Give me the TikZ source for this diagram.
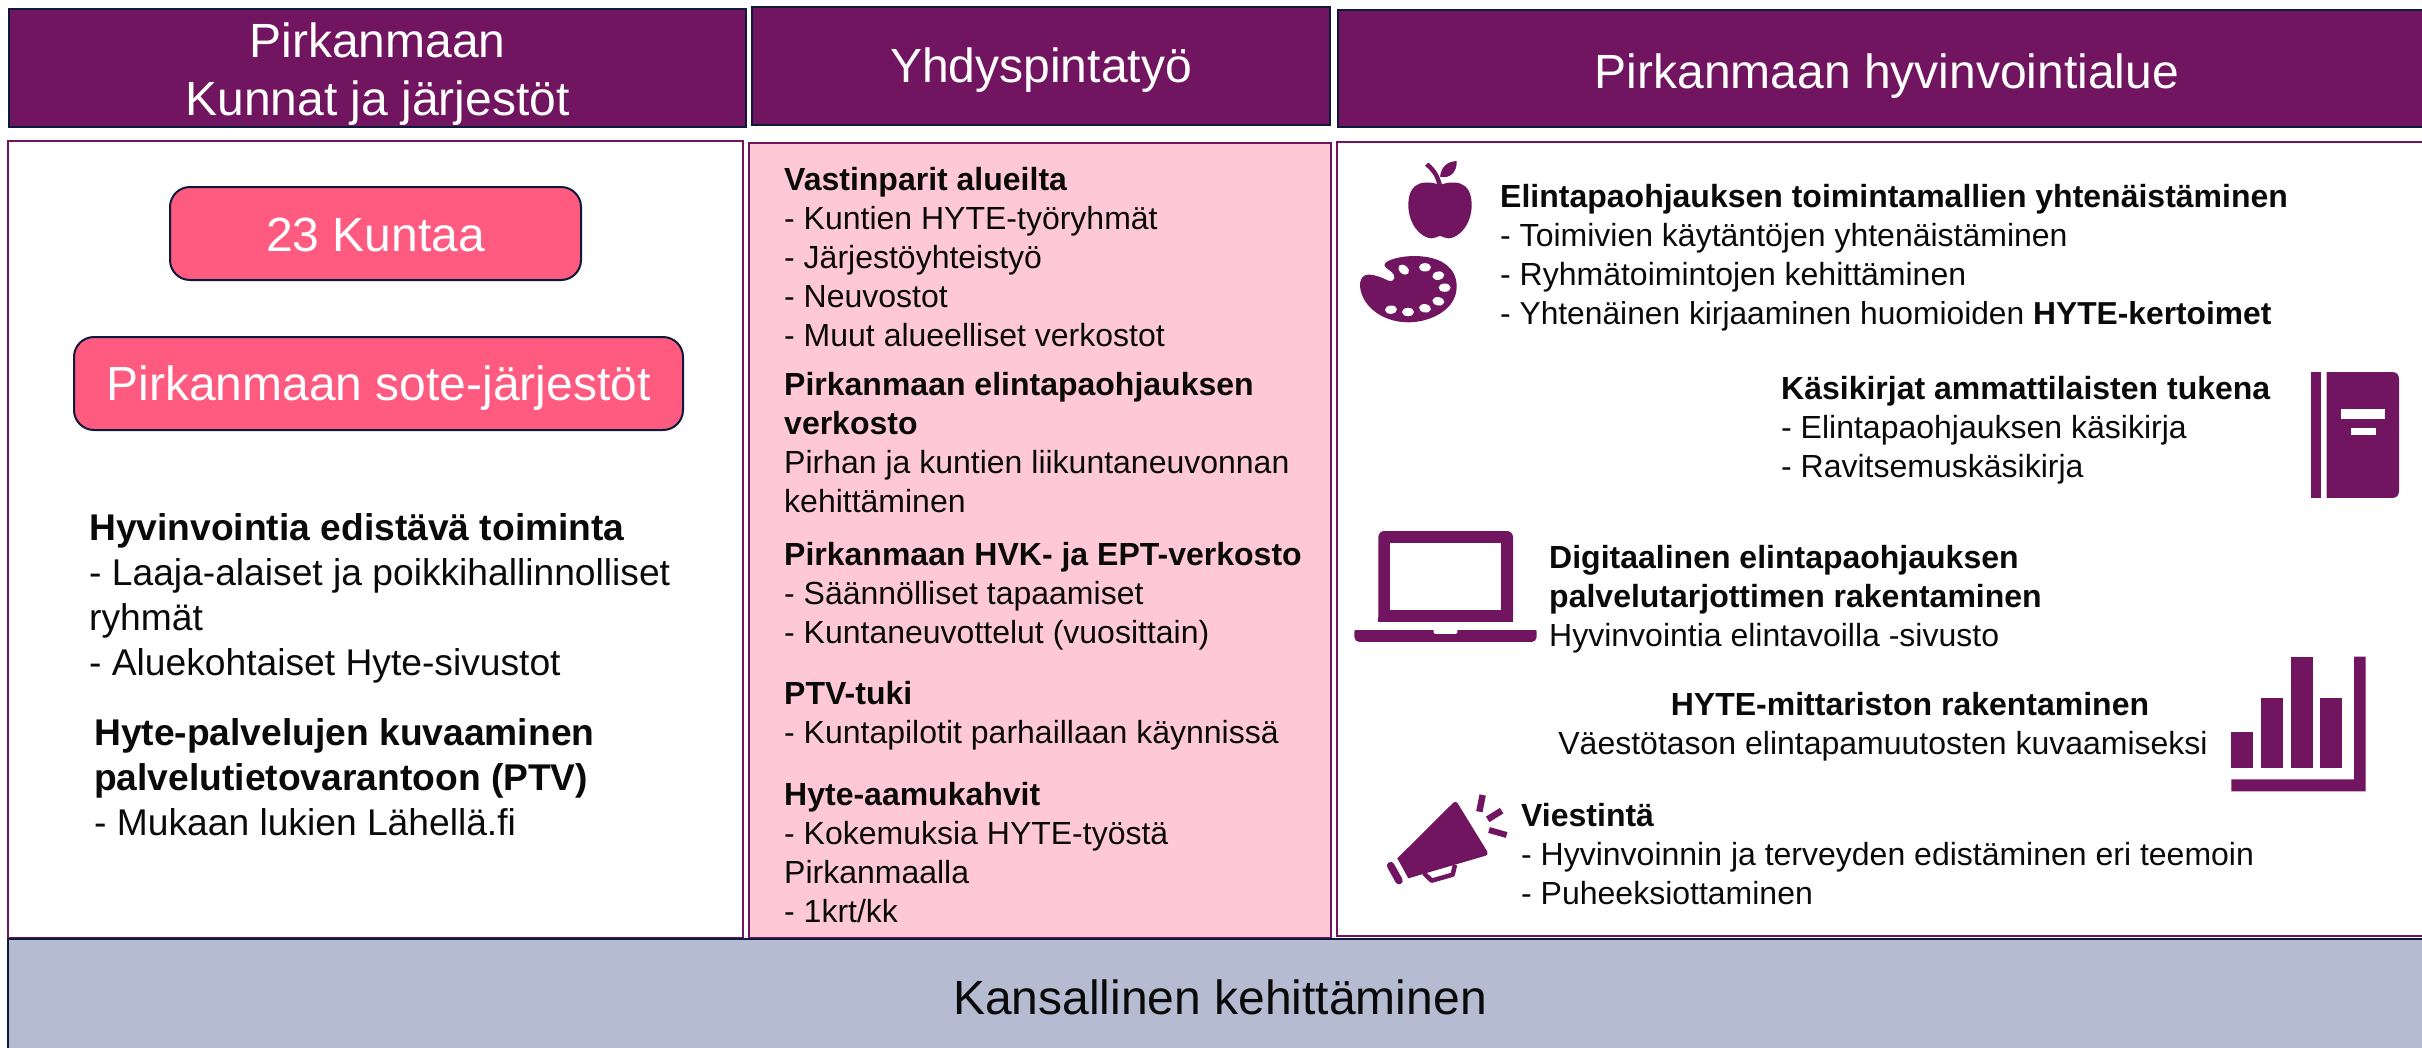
\documentclass[tikz,border=0pt]{standalone}
\usepackage{fontspec}
\setmainfont{Liberation Sans}
\definecolor{plum}{HTML}{711560}
\definecolor{navy}{HTML}{0E1A3C}
\definecolor{coral}{HTML}{FF5A80}
\definecolor{palepink}{HTML}{FFC8D7}
\definecolor{slategrey}{HTML}{B5BBD0}
\definecolor{ink}{HTML}{0A0A0A}
\tikzset{
  hdr/.style={draw=navy,line width=2pt,fill=plum,inner sep=0pt},
  hdrtext/.style={text=white,inner sep=0pt,align=center,font=\fontsize{48}{58}\selectfont},
  panelbox/.style={draw=plum,line width=2.5pt,inner sep=0pt},
  pill/.style={draw=navy,line width=2pt,fill=coral,rounded corners=20pt,inner sep=0pt},
  body/.style={text=ink,inner sep=0pt,anchor=north west,align=left,font=\fontsize{32}{39}\selectfont},
  bodybig/.style={text=ink,inner sep=0pt,anchor=north west,align=left,font=\fontsize{37.2}{45}\selectfont},
}
\begin{document}
\begin{tikzpicture}[x=1pt,y=-1pt]
\useasboundingbox (0,0) rectangle (2422,1047);
\fill[white] (0,0) rectangle (2422,1047);
% headers
\node[hdr,minimum width=737pt,minimum height=118pt] (h1) at (377.5,68) {};
\node[hdrtext] (h1t) at (377.5,74) {Pirkanmaan\\Kunnat ja järjestöt};
\node[hdr,minimum width=578pt,minimum height=118pt] (h2) at (1041,66) {};
\node[hdrtext] (h2t) at (1041,70) {Yhdyspintatyö};
\node[hdr,minimum width=1092pt,minimum height=117pt] (h3) at (1884,68.5) {};
\node[hdrtext] (h3t) at (1887,76) {Pirkanmaan hyvinvointialue};
% panels
\node[panelbox,fill=white,minimum width=735pt,minimum height=797pt] (p1) at (375.5,539.5) {};
\node[panelbox,fill=palepink,minimum width=582pt,minimum height=795pt] (p2) at (1040,540.5) {};
\node[panelbox,fill=white,minimum width=1093pt,minimum height=794pt] (p3) at (1883.5,539) {};
% pills
\node[pill,minimum width=411pt,minimum height=93pt] (kunta) at (375.5,233.5) {};
\node[hdrtext] (kuntat) at (375.5,235) {23 Kuntaa};
\node[pill,minimum width=609pt,minimum height=93pt] (sote) at (378.5,383.5) {};
\node[hdrtext] (sotet) at (378.5,388) {Pirkanmaan sote-järjestöt};
% left text
\node[bodybig] (l1) at (89,509) {\textbf{Hyvinvointia edistävä toiminta}\strut\\- Laaja-alaiset ja poikkihallinnolliset\\ryhmät\\- Aluekohtaiset Hyte-sivustot};
\node[bodybig] (l2) at (94,714) {\textbf{Hyte-palvelujen kuvaaminen}\strut\\\textbf{palvelutietovarantoon (PTV)}\\- Mukaan lukien Lähellä.fi};
% centre text
\node[body] (c1) at (784,163) {\textbf{Vastinparit alueilta}\strut\\- Kuntien HYTE-työryhmät\\- Järjestöyhteistyö\\- Neuvostot\\- Muut alueelliset verkostot};
\node[body] (c2) at (784,368) {\textbf{Pirkanmaan elintapaohjauksen}\strut\\\textbf{verkosto}\\Pirhan ja kuntien liikuntaneuvonnan\\kehittäminen};
\node[body] (c3) at (784,538) {\textbf{Pirkanmaan HVK- ja EPT-verkosto}\strut\\- Säännölliset tapaamiset\\- Kuntaneuvottelut (vuosittain)};
\node[body] (c4) at (784,677) {\textbf{PTV-tuki}\strut\\- Kuntapilotit parhaillaan käynnissä};
\node[body] (c5) at (784,778) {\textbf{Hyte-aamukahvit}\strut\\- Kokemuksia HYTE-työstä\\Pirkanmaalla\\- 1krt/kk};
% right text
\node[body] (r1) at (1500,180) {\textbf{Elintapaohjauksen toimintamallien yhtenäistäminen}\strut\\- Toimivien käytäntöjen yhtenäistäminen\\- Ryhmätoimintojen kehittäminen\\{\fontsize{31.75}{39}\selectfont - Yhtenäinen kirjaaminen huomioiden \textbf{HYTE-kertoimet}}};
\node[body] (r2) at (1781,372) {\textbf{Käsikirjat ammattilaisten tukena}\strut\\- Elintapaohjauksen käsikirja\\- Ravitsemuskäsikirja};
\node[body] (r3) at (1549,541) {\textbf{Digitaalinen elintapaohjauksen}\strut\\\textbf{palvelutarjottimen rakentaminen}\\Hyvinvointia elintavoilla -sivusto};
\node[body,anchor=north] (r4a) at (1910,688) {\textbf{HYTE-mittariston rakentaminen}\strut};
\node[body,anchor=north] (r4b) at (1883,727) {Väestötason elintapamuutosten kuvaamiseksi\strut};
\node[body] (r5) at (1521,799) {\textbf{Viestintä}\strut\\- Hyvinvoinnin ja terveyden edistäminen eri teemoin\\- Puheeksiottaminen};
% grey band
\node[draw=navy,line width=2pt,fill=slategrey,inner sep=0pt,minimum width=2430pt,minimum height=115pt] (band) at (1223,996) {};
\node[text=ink,inner sep=0pt,font=\fontsize{48}{56}\selectfont] (bandtext) at (1220,997) {Kansallinen kehittäminen};
% apple + palette
\begin{scope}[shift={(1340,130)},scale=0.3333]
\fill[plum] (300,165) .. controls (340,150) and (395,150) .. (395,225) .. controls (395,285) and (355,325) .. (325,325) .. controls (315,325) and (305,318) .. (300,318) .. controls (295,318) and (285,325) .. (275,325) .. controls (245,325) and (205,285) .. (205,225) .. controls (205,150) and (260,150) .. (300,165) -- cycle;
\fill[plum] (255,107) -- (265,98) .. controls (290,118) and (300,140) .. (307,168) -- (292,168) .. controls (288,140) and (275,125) .. (255,107) -- cycle;
\fill[plum] (300,140) .. controls (305,105) and (325,95) .. (350,93) .. controls (352,125) and (330,148) .. (300,140) -- cycle;
\fill[plum] (137,398) .. controls (170,370) and (350,355) .. (350,470) .. controls (350,540) and (270,577) .. (205,577) .. controls (120,577) and (58,520) .. (60,460) .. controls (65,425) and (95,428) .. (145,452) .. controls (165,458) and (172,438) .. (150,422) .. controls (132,410) and (130,405) .. (137,398) -- cycle;
\foreach \hx/\hy/\hr in {191/419/-40,255/412/0,295/437/10,314/473/0,295/514/-10,255/535/-10,204/546/0,153/539/5}
  \fill[white,rotate around={\hr:(\hx,\hy)}] (\hx,\hy) ellipse (18 and 12.5);
\end{scope}
% laptop
\begin{scope}[shift={(1340,510)},scale=0.3333]
\fill[plum,rounded corners=6pt] (115,340) -- (115,63) -- (519,63) -- (519,340) -- cycle;
\fill[plum] (115,320) rectangle (519,336);
\fill[white] (115,337) rectangle (519,345);
\fill[white] (150,98) rectangle (484,301);
\fill[plum,rounded corners=5pt] (43,350) -- (43,396) -- (590,396) -- (590,350) -- cycle;
\fill[white] (40,345) rectangle (595,360);
\fill[white,rounded corners=1.5pt] (281,355) rectangle (352,372);
\end{scope}
% megaphone
\begin{scope}[shift={(1360,770)},scale=0.3333]
\fill[plum] (112,265) -- (280,98) .. controls (285,93) and (290,95) .. (293,100) -- (382,245) .. controls (385,250) and (382,256) .. (377,257) -- (145,325) -- cycle;
\draw[plum,line width=4.5pt,line join=round] (192,310) -- (215,332) -- (278,314) -- (285,285);
\draw[plum,line width=7.5pt,line cap=round] (92,287) -- (117,332);
\draw[plum,line width=6.5pt] (368,75) -- (358,125);
\draw[plum,line width=6.5pt] (425,122) -- (383,148);
\draw[plum,line width=6pt] (387,180) -- (440,195);
\end{scope}
% chart
\begin{scope}[shift={(2190,640)},scale=0.3333]
\fill[plum] (123,276) rectangle (189,384);
\fill[plum] (213,174) rectangle (279,384);
\fill[plum] (303,51) rectangle (369,384);
\fill[plum] (390,174) rectangle (456,384);
\fill[plum] (492,50) -- (527,50) -- (527,454) -- (124,454) -- (124,418) -- (492,418) -- cycle;
\end{scope}
% book
\begin{scope}[shift={(2290,360)},scale=0.3333]
\fill[plum] (63,36) rectangle (93,414);
\fill[plum] (110,36) -- (305,36) .. controls (320,36) and (327,43) .. (327,58) -- (327,392) .. controls (327,407) and (320,414) .. (305,414) -- (110,414) -- cycle;
\fill[white] (152,148) rectangle (285,176);
\fill[white] (183,205) rectangle (257,224);
\end{scope}
\end{tikzpicture}
\end{document}
